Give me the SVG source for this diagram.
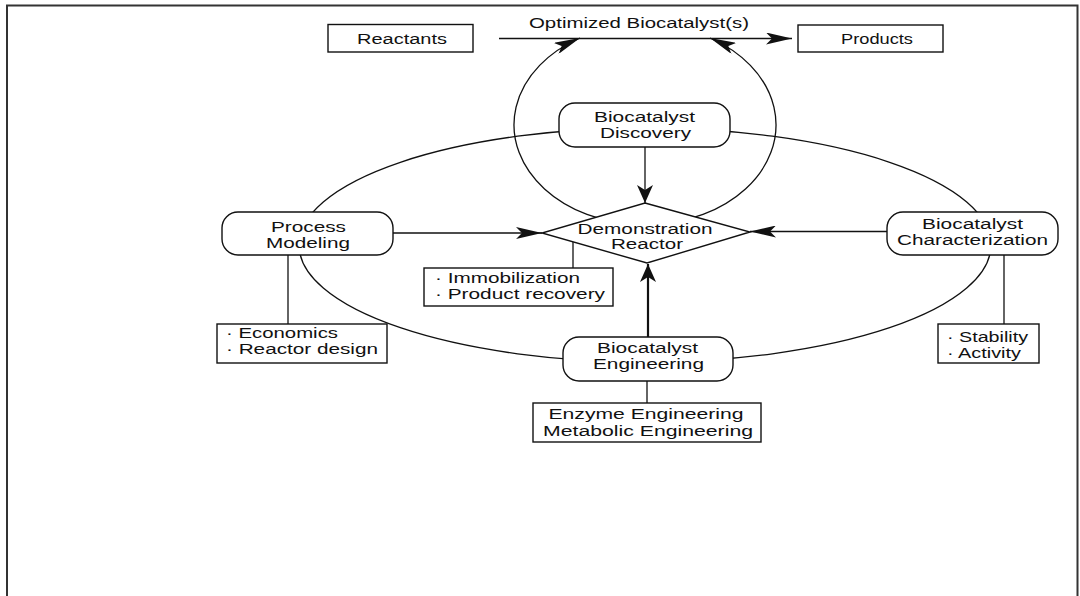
<svg xmlns="http://www.w3.org/2000/svg" width="1080" height="596" viewBox="0 0 1080 596">
<defs>
<style>
.ln{fill:none;stroke:#111;stroke-width:1.3}
.box{fill:#fff;stroke:#111;stroke-width:1.4}
.t{font-family:"Liberation Sans",Arial,sans-serif;font-size:15.5px;fill:#111}
.c{text-anchor:middle}
</style>
<marker id="ah" markerUnits="userSpaceOnUse" viewBox="0 0 26 12" markerWidth="26" markerHeight="12" refX="26" refY="6" orient="auto-start-reverse">
<path d="M0,0 L26,6 L0,12 L6,6 Z" fill="#111"/>
</marker>
<marker id="ah2" markerUnits="userSpaceOnUse" viewBox="0 0 18 16" markerWidth="18" markerHeight="16" refX="18" refY="8" orient="auto-start-reverse">
<path d="M0,0 L18,8 L0,16 L5,8 Z" fill="#111"/>
</marker>
</defs>
<rect width="1080" height="596" fill="#fff"/>
<path d="M7,596 V5.5 H1077.5 V596" fill="none" stroke="#333" stroke-width="2"/>

<g id="connectors">
<ellipse class="ln" cx="645" cy="245" rx="346" ry="117"/>
<path class="ln" d="M580,38 A131,100 0 1 0 710,38" marker-start="url(#ah)" marker-end="url(#ah)"/>
<line class="ln" x1="499" y1="38.5" x2="792" y2="38.5" marker-end="url(#ah)"/>
<text class="t c" x="639" y="28" textLength="220" lengthAdjust="spacingAndGlyphs">Optimized Biocatalyst(s)</text>
<line class="ln" x1="645" y1="147" x2="645" y2="203" marker-end="url(#ah2)"/>
<line class="ln" x1="393" y1="233" x2="542" y2="233" marker-end="url(#ah)"/>
<line class="ln" x1="887" y1="231.5" x2="750" y2="231.5" marker-end="url(#ah)"/>
<line fill="none" stroke="#111" stroke-width="2.2" x1="648" y1="337" x2="648" y2="264" marker-end="url(#ah2)"/>
<line class="ln" x1="573" y1="242" x2="573" y2="268"/>
<line class="ln" x1="288" y1="255" x2="288" y2="324"/>
<line class="ln" x1="1004" y1="255" x2="1004" y2="324"/>
<line class="ln" x1="647" y1="381" x2="647" y2="403"/>
</g>

<g id="reactants">
<rect class="box" x="328" y="24.5" width="145" height="27.5"/>
<text class="t c" x="402" y="43.5" textLength="90" lengthAdjust="spacingAndGlyphs">Reactants</text>
</g>
<g id="products">
<rect class="box" x="798" y="25" width="145" height="27"/>
<text class="t c" x="877" y="43.5" textLength="72" lengthAdjust="spacingAndGlyphs">Products</text>
</g>

<g id="discovery">
<rect class="box" x="559" y="103" width="171" height="44" rx="16"/>
<text class="t c" x="644.5" y="122" textLength="101" lengthAdjust="spacingAndGlyphs">Biocatalyst</text>
<text class="t c" x="645.5" y="137.5" textLength="91" lengthAdjust="spacingAndGlyphs">Discovery</text>
</g>

<g id="reactor">
<polygon class="box" points="645,203 750,232 647,263 542,233"/>
<text class="t c" x="645" y="233.5" textLength="135" lengthAdjust="spacingAndGlyphs">Demonstration</text>
<text class="t c" x="647" y="249" textLength="72" lengthAdjust="spacingAndGlyphs">Reactor</text>
</g>

<g id="process">
<rect class="box" x="222" y="212" width="171" height="43" rx="16"/>
<text class="t c" x="308.5" y="231.5" textLength="75" lengthAdjust="spacingAndGlyphs">Process</text>
<text class="t c" x="308" y="247.5" textLength="84" lengthAdjust="spacingAndGlyphs">Modeling</text>
</g>

<g id="characterization">
<rect class="box" x="887" y="212" width="171" height="43" rx="16"/>
<text class="t c" x="972.5" y="229" textLength="101" lengthAdjust="spacingAndGlyphs">Biocatalyst</text>
<text class="t c" x="972.5" y="244.5" textLength="151" lengthAdjust="spacingAndGlyphs">Characterization</text>
</g>

<g id="engineering">
<rect class="box" x="563" y="337" width="170" height="44" rx="16"/>
<text class="t c" x="647.5" y="353" textLength="101" lengthAdjust="spacingAndGlyphs">Biocatalyst</text>
<text class="t c" x="648.5" y="368.5" textLength="111" lengthAdjust="spacingAndGlyphs">Engineering</text>
</g>

<g id="immobilization">
<rect class="box" x="424" y="268" width="189" height="38"/>
<text class="t" x="435" y="283" textLength="145" lengthAdjust="spacingAndGlyphs">· Immobilization</text>
<text class="t" x="435" y="299" textLength="170" lengthAdjust="spacingAndGlyphs">· Product recovery</text>
</g>

<g id="economics">
<rect class="box" x="217" y="324" width="170" height="39"/>
<text class="t" x="226" y="338" textLength="112" lengthAdjust="spacingAndGlyphs">· Economics</text>
<text class="t" x="226" y="354" textLength="152" lengthAdjust="spacingAndGlyphs">· Reactor design</text>
</g>

<g id="stability">
<rect class="box" x="938" y="324" width="101" height="39"/>
<text class="t" x="947" y="342" textLength="81" lengthAdjust="spacingAndGlyphs">· Stability</text>
<text class="t" x="947" y="357.5" textLength="74" lengthAdjust="spacingAndGlyphs">· Activity</text>
</g>

<g id="enzyme">
<rect class="box" x="533" y="403" width="228" height="39"/>
<text class="t c" x="646" y="419" textLength="195" lengthAdjust="spacingAndGlyphs">Enzyme Engineering</text>
<text class="t c" x="648" y="435.5" textLength="210" lengthAdjust="spacingAndGlyphs">Metabolic Engineering</text>
</g>
</svg>
